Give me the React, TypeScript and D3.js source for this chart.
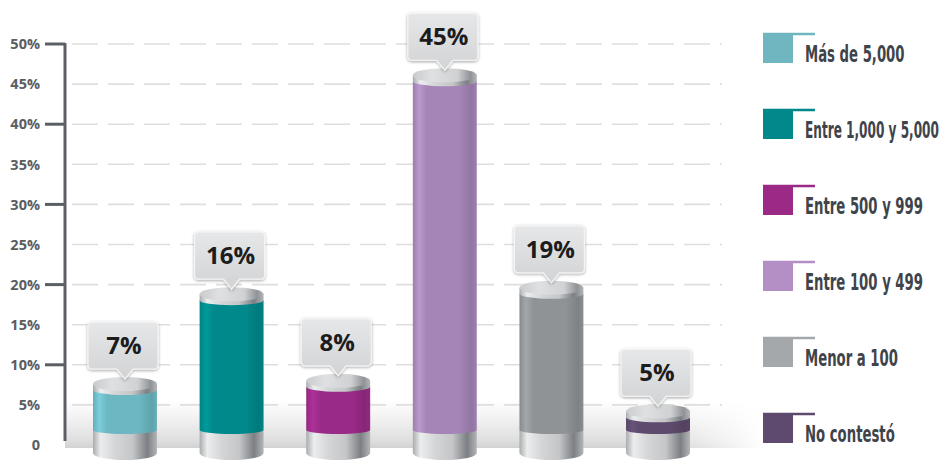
import React, { useEffect, useRef } from 'react';
import * as d3 from 'd3';

const categories = ['Más de 5,000', 'Entre 1,000 y 5,000', 'Entre 500 y 999', 'Entre 100 y 499', 'Menor a 100', 'No contestó'];
const percentLabels = [7, 16, 8, 45, 19, 5];
// heights as drawn in the picture (the infographic does not draw them exactly at the labelled values)
const drawnHeights = [7.6, 18.8, 8.0, 46.1, 19.6, 4.2];
const barColors = ['#6cb7c1', '#00898b', '#9a2a87', '#a585b7', '#8f9396', '#5d4a6c'];
const legendColors = ['#6fb6c0', '#00888a', '#9b2a86', '#b48fc6', '#a5a8ab', '#5e4a6e'];
const yTicks = [0, 5, 10, 15, 20, 25, 30, 35, 40, 45, 50];
const majorTicks = [10, 20, 30, 40, 50];

const W = 946;
const H = 465;
const LEGEND_TEXT_X = 805;
const LEGEND_RIGHT = 939;
const LEGEND_SCALE = 0.64;

export default function App() {
  const legendRef = useRef<SVGGElement>(null);
  const y = d3.scaleLinear().domain([0, 50]).range([445, 44]);
  const x = d3.scaleBand<string>().domain(categories).range([93, 690]).paddingInner(0.4).paddingOuter(0);
  const bw = x.bandwidth();
  const rx = bw / 2;
  const ry = 7;
  const baseTop = y(0) - 15;
  const bottomY = y(0) + 8;
  const legendY = d3.scalePoint<string>().domain(categories).range([33, 413]);

  const shade = (c: string, k: number) => (k >= 0 ? d3.color(c)!.brighter(k).formatHex() : d3.color(c)!.darker(-k).formatHex());

  useEffect(() => {
    if (!legendRef.current) return;
    const maxW = LEGEND_RIGHT - LEGEND_TEXT_X;
    d3.select(legendRef.current)
      .selectAll<SVGTextElement, unknown>('text')
      .each(function () {
        const len = this.getComputedTextLength();
        const s = Math.min(LEGEND_SCALE, maxW / len);
        const g = this.parentNode as SVGGElement;
        const ty = g.getAttribute('data-y');
        d3.select(g).attr('transform', `translate(${LEGEND_TEXT_X},${ty}) scale(${s},1)`);
      });
  }, []);

  return (
    <svg width={W} height={H} style={{ position: 'absolute', left: 0, top: 0, background: '#fff' }}>
      <defs>
        <linearGradient id="silver" x1="0" x2="1" y1="0" y2="0">
          <stop offset="0" stopColor="#a9acaf" />
          <stop offset="0.12" stopColor="#eceded" />
          <stop offset="0.35" stopColor="#d3d5d7" />
          <stop offset="0.62" stopColor="#c4c6c8" />
          <stop offset="0.85" stopColor="#7c7f83" />
          <stop offset="1" stopColor="#b3b5b8" />
        </linearGradient>
        <linearGradient id="topface" x1="0" x2="1" y1="0" y2="0">
          <stop offset="0" stopColor="#c9cbcd" />
          <stop offset="0.3" stopColor="#dfe0e1" />
          <stop offset="0.7" stopColor="#cfd1d3" />
          <stop offset="0.9" stopColor="#8f9296" />
          <stop offset="1" stopColor="#b5b7b9" />
        </linearGradient>
        <linearGradient id="callout" x1="0" x2="0" y1="0" y2="1">
          <stop offset="0" stopColor="#e6e7e8" />
          <stop offset="1" stopColor="#d2d3d5" />
        </linearGradient>
        <linearGradient id="floorV" x1="0" x2="0" y1="0" y2="1">
          <stop offset="0" stopColor="#e4e4e4" stopOpacity="0" />
          <stop offset="0.85" stopColor="#dedede" stopOpacity="1" />
          <stop offset="1" stopColor="#d2d2d2" stopOpacity="1" />
        </linearGradient>
        <linearGradient id="floorMaskGrad" x1="0" x2="1" y1="0" y2="0">
          <stop offset="0" stopColor="#fff" />
          <stop offset="0.85" stopColor="#fff" />
          <stop offset="1" stopColor="#000" />
        </linearGradient>
        <mask id="floorMask">
          <rect x={65} y={395} width={700} height={60} fill="url(#floorMaskGrad)" />
        </mask>
        {barColors.map((c, i) => (
          <linearGradient key={i} id={`body${i}`} x1="0" x2="1" y1="0" y2="0">
            <stop offset="0" stopColor={shade(c, -0.15)} />
            <stop offset="0.1" stopColor={shade(c, 0.35)} />
            <stop offset="0.22" stopColor={c} />
            <stop offset="0.72" stopColor={c} />
            <stop offset="0.92" stopColor={shade(c, -0.35)} />
            <stop offset="1" stopColor={shade(c, -0.1)} />
          </linearGradient>
        ))}
        <filter id="shadow" x="-20%" y="-20%" width="140%" height="150%">
          <feDropShadow dx="0" dy="1" stdDeviation="1.6" floodColor="#000" floodOpacity="0.35" />
        </filter>
      </defs>

      {/* gridlines */}
      {yTicks.filter((t) => t > 0).map((t) => (
        <line key={t} x1={72} x2={722} y1={y(t)} y2={y(t)} stroke="#dedede" strokeWidth={1.6} strokeDasharray="26 10" />
      ))}

      {/* floor */}
      <rect x={65} y={400} width={700} height={48} fill="url(#floorV)" mask="url(#floorMask)" />

      {/* y axis */}
      <line x1={65} x2={65} y1={y(50) - 1} y2={441} stroke="#5b5f64" strokeWidth={3} />
      {majorTicks.map((t) => (
        <line key={t} x1={45} x2={65} y1={y(t)} y2={y(t)} stroke="#5b5f64" strokeWidth={3} />
      ))}
      {yTicks.map((t) => (
        <text key={t} x={40} y={y(t)} dy="0.36em" textAnchor="end" fontFamily="'Open Sans', sans-serif" fontWeight={700} fontSize={14.5} fill="#595d62">
          {t === 0 ? '0' : `${t}%`}
        </text>
      ))}

      {/* cylinders */}
      {categories.map((cat, i) => {
        const x0 = x(cat)!;
        const x1 = x0 + bw;
        const cx = x0 + rx;
        const topY = y(drawnHeights[i]);
        const rimY = topY + 6;
        const basePath = `M${x0},${baseTop} L${x0},${bottomY} A${rx},${ry} 0 0 0 ${x1},${bottomY} L${x1},${baseTop} Z`;
        const bodyPath = `M${x0},${rimY} L${x0},${baseTop} A${rx},${ry - 3} 0 0 0 ${x1},${baseTop} L${x1},${rimY} Z`;
        const rimPath = `M${x0},${topY} L${x0},${rimY} A${rx},${ry - 2} 0 0 0 ${x1},${rimY} L${x1},${topY} Z`;
        const boxW = 70;
        const boxH = 47;
        const boxBottom = topY - 15;
        const boxTop = boxBottom - boxH;
        const tipY = topY - 5;
        const bx0 = cx - boxW / 2 - 2;
        const bx1 = bx0 + boxW;
        const r = 4;
        const pcx = cx;
        const callPath = `M${bx0 + r},${boxTop} L${bx1 - r},${boxTop} Q${bx1},${boxTop} ${bx1},${boxTop + r} L${bx1},${boxBottom - r} Q${bx1},${boxBottom} ${bx1 - r},${boxBottom} L${pcx + 8},${boxBottom} L${pcx},${tipY} L${pcx - 8},${boxBottom} L${bx0 + r},${boxBottom} Q${bx0},${boxBottom} ${bx0},${boxBottom - r} L${bx0},${boxTop + r} Q${bx0},${boxTop} ${bx0 + r},${boxTop} Z`;
        return (
          <g key={cat}>
            <path d={basePath} fill="url(#silver)" />
            <path d={bodyPath} fill={`url(#body${i})`} />
            <path d={rimPath} fill="url(#silver)" />
            <ellipse cx={cx} cy={topY} rx={rx} ry={ry} fill="url(#topface)" />
            <path d={callPath} fill="url(#callout)" stroke="#f4f4f4" strokeWidth={1.2} filter="url(#shadow)" />
            <text x={bx0 + boxW / 2 + 1} y={(boxTop + boxBottom) / 2 + 8.5} textAnchor="middle" fontFamily="'Open Sans', sans-serif" fontWeight={700} fontSize={24} fill="#1c1c1c">
              {`${percentLabels[i]}%`}
            </text>
          </g>
        );
      })}

      {/* legend */}
      <g ref={legendRef}>
        {categories.map((cat, i) => {
          const ty = legendY(cat)!;
          return (
            <g key={cat}>
              <rect x={763} y={ty} width={30} height={30} fill={legendColors[i]} />
              <line x1={763} x2={815} y1={ty + 1} y2={ty + 1} stroke={legendColors[i]} strokeWidth={2.5} />
              <g data-y={ty + 29} transform={`translate(${LEGEND_TEXT_X},${ty + 29}) scale(${LEGEND_SCALE},1)`}>
                <text x={0} y={0} fontFamily="'DejaVu Sans Condensed', 'DejaVu Sans', sans-serif" fontWeight={700} fontSize={23} fill="#3f444a">
                  {cat}
                </text>
              </g>
            </g>
          );
        })}
      </g>
    </svg>
  );
}
